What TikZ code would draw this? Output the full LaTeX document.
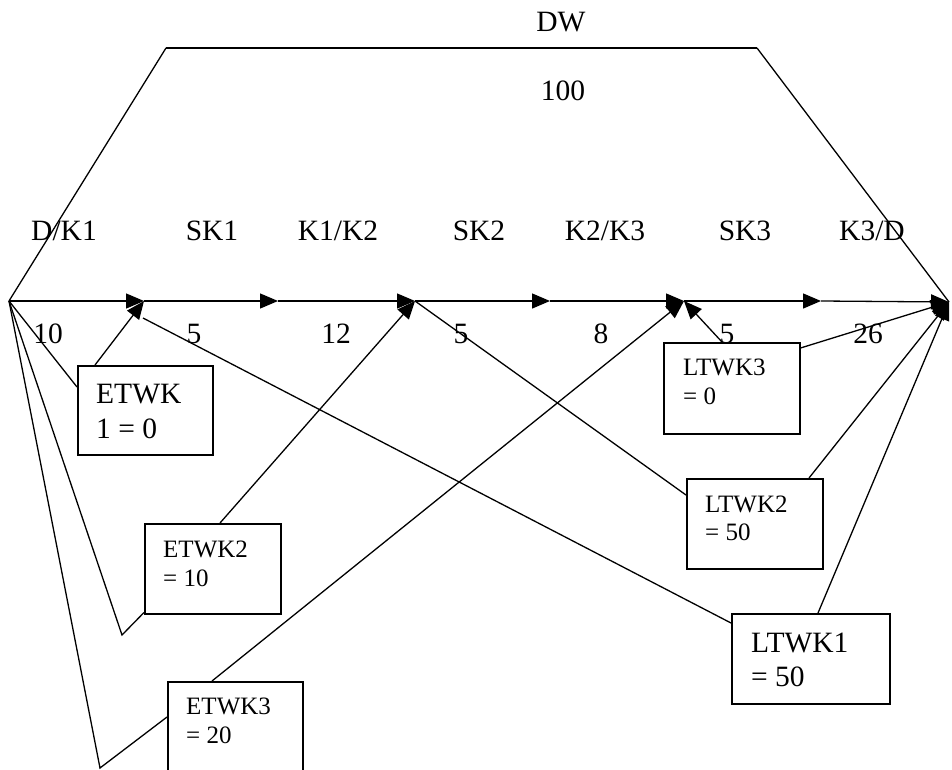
\documentclass[tikz,border=0pt]{standalone}
\usepackage{fontspec}
\setmainfont{Liberation Serif}
\usetikzlibrary{arrows.meta,calc}
\begin{document}
\begin{tikzpicture}[x=1pt,y=-1pt,
  ln/.style={line width=1.3pt},
  arr/.style={ln,-{Triangle[length=18pt,width=15pt]}},
  box/.style={draw,line width=1.5pt,rectangle,inner sep=0pt,anchor=north west},
  big/.style={inner sep=0pt,font=\fontsize{29.5}{35}\selectfont},
  small/.style={inner sep=0pt,font=\fontsize{25}{29}\selectfont}
]
\path[use as bounding box] (0,0) rectangle (952,770);
\clip (0,0) rectangle (952,770);

% main line points
\coordinate (N0) at (9,301);
\coordinate (N1) at (144,301);
\coordinate (N1low) at (143,318);
\coordinate (N2) at (415,301);
\coordinate (N3) at (684,301);
\coordinate (N4) at (949,302);
\coordinate (M1) at (278,301);
\coordinate (M2) at (550,301);
\coordinate (M3) at (821,301);
\coordinate (T1) at (166,48);
\coordinate (T2) at (757,48);
\coordinate (k2) at (122,635);
\coordinate (k3) at (100,768);

% boxes
\node[box,minimum width=135pt,minimum height=89pt] (e1) at (77,365) {};
\node[box,minimum width=136pt,minimum height=90pt] (e2) at (144,523) {};
\node[box,minimum width=135pt,minimum height=110pt] (e3) at (167,681) {};
\node[box,minimum width=136pt,minimum height=91pt] (l3) at (663,342) {};
\node[box,minimum width=136pt,minimum height=90pt] (l2) at (686,478) {};
\node[box,minimum width=158pt,minimum height=90pt] (l1) at (731,613) {};

% box texts
\node[big,anchor=base west] (e1a) at (96,403) {ETWK};
\node[big,anchor=base west] (e1b) at (96,438) {1 = 0};
\node[small,anchor=base west] (e2a) at (163,557) {ETWK2};
\node[small,anchor=base west] (e2b) at (163,586) {= 10};
\node[small,anchor=base west] (e3a) at (186,714) {ETWK3};
\node[small,anchor=base west] (e3b) at (186,743) {= 20};
\node[small,anchor=base west] (l3a) at (683,375) {LTWK3};
\node[small,anchor=base west] (l3b) at (683,404) {= 0};
\node[small,anchor=base west] (l2a) at (705,512) {LTWK2};
\node[small,anchor=base west] (l2b) at (705,540) {= 50};
\node[big,anchor=base west] (l1a) at (751,652) {LTWK1};
\node[big,anchor=base west] (l1b) at (751,686) {= 50};

% top labels
\node[big,anchor=base] (dw) at (561,32) {DW};
\node[big,anchor=base] (hund) at (563,101) {100};
\node[big,anchor=base] (t1) at (64,240) {D/K1};
\node[big,anchor=base] (t2) at (212,240) {SK1};
\node[big,anchor=base] (t3) at (338,240) {K1/K2};
\node[big,anchor=base] (t4) at (479,240) {SK2};
\node[big,anchor=base] (t5) at (605,240) {K2/K3};
\node[big,anchor=base] (t6) at (745,240) {SK3};
\node[big,anchor=base] (t7) at (872,240) {K3/D};
% durations
\node[big,anchor=base] (d1) at (48,343) {10};
\node[big,anchor=base] (d2) at (194,343) {5};
\node[big,anchor=base] (d3) at (336,343) {12};
\node[big,anchor=base] (d4) at (461,343) {5};
\node[big,anchor=base] (d5) at (601,343) {8};
\node[big,anchor=base] (d6) at (727,343) {5};
\node[big,anchor=base] (d7) at (868,343) {26};

% trapezoid
\draw[ln] (N0) -- (T1);
\draw[line width=2.2pt] (T1) -- (T2);
\draw[ln] (T2) -- (N4);

% main line
\draw[arr] (N0) -- (N1);
\draw[arr] (N1) -- (M1);
\draw[arr] (M1) -- (N2);
\draw[arr] (N2) -- (M2);
\draw[arr] (M2) -- (N3);
\draw[arr] (N3) -- (M3);
\draw[arr] (M3) -- (N4);

% early times
\draw[ln] (N0) -- ($(e1.north west)+(0,22)$);
\draw[arr] ($(e1.north west)+(18,0)$) -- (N1);
\draw[ln] (N0) -- (k2) -- ($(e2.south west)+(0,-2)$);
\draw[arr] ($(e2.north west)+(76,0)$) -- (N2);
\draw[ln] (N0) -- (k3) -- ($(e3.north west)+(0,36)$);
\draw[arr] ($(e3.north west)+(45,0)$) -- (N3);

% late times
\draw[ln] (N1low) -- ($(l1.north west)+(0,10)$);
\draw[ln] (N2) -- ($(l2.north west)+(0,17)$);
\draw[arr] ($(l3.north west)+(59,0)$) -- (N3);
\draw[arr] ($(l3.north east)+(0,6)$) -- (N4);
\draw[arr] ($(l2.north west)+(123,0)$) -- (N4);
\draw[arr] ($(l1.north west)+(87,0)$) -- (N4);
\end{tikzpicture}
\end{document}
